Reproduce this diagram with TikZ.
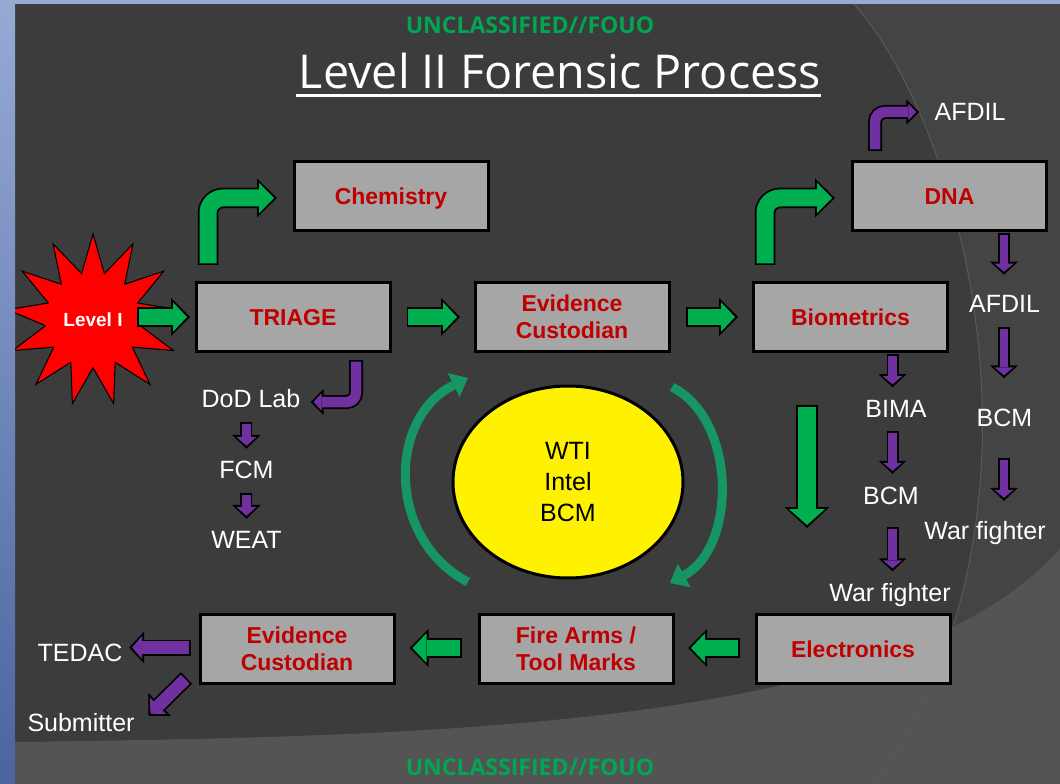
\documentclass[tikz,border=0pt]{standalone}
\usepackage{fontspec}
\setmainfont{Liberation Sans}
\newfontfamily\headfont{Open Sans}
\usetikzlibrary{positioning}
\usetikzlibrary{calc}
\usetikzlibrary{arrows.meta}
\usetikzlibrary{shapes.geometric}
\usetikzlibrary{backgrounds}
\definecolor{boxred}{RGB}{192,0,0}
\definecolor{boxgray}{RGB}{166,166,166}
\definecolor{flowgreen}{RGB}{0,176,80}
\definecolor{flowpurple}{RGB}{112,48,160}
\definecolor{ringgreen}{RGB}{22,150,100}
\definecolor{banner}{RGB}{0,166,81}
\definecolor{slate}{RGB}{60,60,60}
\definecolor{slatelight}{RGB}{68,68,68}
\definecolor{slatelow}{RGB}{84,84,84}
\definecolor{slateline}{RGB}{88,88,88}
\definecolor{frameblue}{RGB}{150,170,212}
\definecolor{framedeep}{RGB}{75,100,160}

% block arrow: [opts]{colour}{shaft}{head width}{head length}{path}
\newcommand{\blockarrow}[6][]{%
  \pgfmathsetmacro\sw{#3*0.75}%
  \pgfmathsetmacro\hw{#4*0.75}%
  \pgfmathsetmacro\hl{#5*0.75}%
  \pgfmathsetmacro\isw{(#3-3.5)*0.75}%
  \pgfmathsetmacro\ihw{(#4*(#5-2)/#5-4.5)*0.75}%
  \pgfmathsetmacro\ihl{(#5-5)*0.75}%
  \draw[#1, black, line width=\sw pt,
        -{Triangle[width=\hw pt, length=\hl pt, line width=0pt]}] #6;
  \draw[#1, #2, line width=\isw pt, shorten <=1.3pt, shorten >=2.25pt,
        -{Triangle[width=\ihw pt, length=\ihl pt, line width=0pt]}] #6;
}

\begin{document}
\begin{tikzpicture}[
            x = 0.75pt, y = -0.75pt, % one unit = one pixel, y downwards
            box/.style = {draw = black, line width = 2.25pt, fill = boxgray,
                minimum width = 145.5pt, minimum height = 51.75pt, inner sep = 0pt,
                align = center, text = boxred,
                font = \bfseries\fontsize{17.25}{20.25}\selectfont},
            onebox/.style = {box, text height = 12.4pt, text depth = 0pt},
            lbl/.style = {text = white, inner sep = 0pt,
                text height = 13.5pt, text depth = 3.75pt,
                font = \fontsize{18.75}{22}\selectfont},
            burst/.style = {star, star points = 13, star point ratio = 1.8,
                minimum size = 129pt, inner sep = 0pt, fill = red,
                draw = black, line width = 0.8pt, text = white,
                font = \bfseries\fontsize{14.25}{16}\selectfont},
            hubnode/.style = {ellipse, draw = black, line width = 2.25pt,
                fill = yellow, minimum width = 172.5pt, minimum height = 144pt,
                align = center, font = \fontsize{18.75}{23.25}\selectfont},
            ring/.style = {draw = ringgreen, line width = 6.75pt,
                -{Triangle[length = 12pt, width = 20pt, line width = 0pt]}},
            banner/.style = {text = banner, inner sep = 0pt,
                font = \headfont\bfseries\fontsize{17.25}{20}\selectfont}
            ]
        \useasboundingbox (0,0) rectangle (1060,784);

        % headings
        \node[banner] (uncTop) at (530,25) {UNCLASSIFIED//FOUO};
        \node[banner] (uncBot) at (530,767) {UNCLASSIFIED//FOUO};
        \node[text = white, inner sep = 0pt, text height = 25pt, text depth = 0pt,
              font = \headfont\fontsize{35}{40}\selectfont]
              (title) at (560,72) {Level II Forensic Process};
        \draw[white, line width = 2pt] ($(title.south west)+(-3,6.5)$) -- ($(title.south east)+(0,6.5)$);

        % main boxes
        \node[onebox] (chem)   at (391,196) {Chemistry};
        \node[onebox] (triage) at (293,317) {TRIAGE};
        \node[box]    (ecA)    at (572,317) {Evidence\\Custodian};
        \node[onebox] (bio)    at (850.5,317) {Biometrics};
        \node[onebox] (dna)    at (949.5,196) {DNA};
        \node[onebox] (elec)   at (853,649) {Electronics};
        \node[box]    (fire)   at (576,649) {Fire Arms /\\Tool Marks};
        \node[box]    (ecB)    at (297,649) {Evidence\\Custodian};

        % level I and the hub
        \node[burst] (lvl) at (93,320) {Level I};
        \node[hubnode] (hub) at (568,482) {WTI\\Intel\\BCM};

        % side labels
        \node[lbl] (dod) at (251,401) {DoD Lab};
        \node[lbl] (fcm) [below = 35.25pt of dod, xshift = -3.4pt] {FCM};
        \node[lbl] (weat) [below = 35.25pt of fcm] {WEAT};
        \node[lbl] (tedac) at (80,655) {TEDAC};
        \node[lbl] (subm) at (81,725) {Submitter};

        \node[lbl] (afdA) at (970,114) {AFDIL};
        \node[lbl] (afdB) at (1004.5,306) {AFDIL};
        \node[lbl] (bcmR) [below = 67.5pt of afdB] {BCM};
        \node[lbl] (warR) at (985,533) {War fighter};

        \node[lbl] (bima) at (896,411) {BIMA};
        \node[lbl] (bcmM) [below = 47.25pt of bima, xshift = -3.75pt] {BCM};
        \node[lbl] (warM) [below = 55.5pt of bcmM, xshift = -0.75pt] {War fighter};

        % green flow
        \blockarrow{flowgreen}{20}{38}{19}{($(lvl)+(44,-3)$) -- ($(triage.west)+(-4.5,0)$)}
        \blockarrow{flowgreen}{20}{38}{19}{($(triage.east)+(15,0)$) -- ($(ecA.west)+(-13.5,0)$)}
        \blockarrow{flowgreen}{20}{38}{19}{($(ecA.east)+(15.5,0)$) -- ($(bio.west)+(-14,0)$)}
        \blockarrow{flowgreen}{20}{38}{19}{($(elec.west)+(-14.5,-1)$) -- ($(fire.east)+(13.5,-1)$)}
        \blockarrow{flowgreen}{20}{38}{19}{($(fire.west)+(-16,-1)$) -- ($(ecB.east)+(14,-1)$)}
        \blockarrow{flowgreen}{22}{45}{21}{($(elec.north)+(-46,-208)$) -- ($(elec.north)+(-46,-85)$)}
        \blockarrow[rounded corners = 11.25pt]{flowgreen}{20.5}{39}{20}{($(triage.north west)+(13.5,-16)$) |- ($(chem.west)+(-15.5,2)$)}
        \blockarrow[rounded corners = 11.25pt]{flowgreen}{20.5}{39}{20}{($(bio.north west)+(13,-16)$) |- ($(dna.west)+(-16,2)$)}

        % purple hand-offs
        \blockarrow[rounded corners = 7pt]{flowpurple}{14}{26}{13}{($(triage.south east)+(-35.5,7)$) |- ($(dod.east)+(10,1)$)}
        \blockarrow{flowpurple}{12}{29}{14}{($(fcm.north |- dod.south)+(0,9)$) -- ($(fcm.north)+(0,-11)$)}
        \blockarrow{flowpurple}{12}{29}{14}{($(fcm.south)+(0,9.5)$) -- ($(weat.north)+(0,-11.5)$)}
        \blockarrow[rounded corners = 7.5pt]{flowpurple}{14}{25}{13}{($(dna.north)+(-74.5,-9)$) |- ($(afdA.west)+(-15,-2)$)}
        \blockarrow{flowpurple}{12}{28}{13}{($(dna.south)+(54.5,1)$) -- ($(afdB.north)+(-0.5,-19.5)$)}
        \blockarrow{flowpurple}{12}{28}{13}{($(afdB.south)+(-0.5,9.5)$) -- ($(bcmR.north)+(-0.5,-29.5)$)}
        \blockarrow{flowpurple}{12}{28}{13}{($(bcmR.south)+(-0.5,26.5)$) -- ($(bcmR.south)+(-0.5,69.5)$)}
        \blockarrow{flowpurple}{12}{28}{13}{($(bio.south)+(42,1)$) -- ($(bima.north)+(-3.5,-12)$)}
        \blockarrow{flowpurple}{12}{28}{13}{($(bima.south)+(-3.5,8)$) -- ($(bcmM.north)+(1.5,-12)$)}
        \blockarrow{flowpurple}{12}{28}{13}{($(bcmM.south)+(1.5,18)$) -- ($(warM.north)+(2.5,-12)$)}
        \blockarrow{flowpurple}{16}{32}{15}{($(ecB.west)+(-8,-1.5)$) -- ($(tedac.east |- ecB.west)+(6.5,-1.5)$)}
        \blockarrow{flowpurple}{16}{32}{16}{($(ecB.south west)+(-12,-7)$) -- ($(subm.north east)+(13.5,2.5)$)}

        % cycle round the hub
        \draw[ring] ($(hub)+(-100,100)$) .. controls ($(hub)+(-181,58)$) and ($(hub)+(-181,-64)$) .. ($(hub)+(-100,-104)$);
        \draw[ring] ($(hub)+(104,-95)$) .. controls ($(hub)+(169,-62)$) and ($(hub)+(169,65)$) .. ($(hub)+(102,101)$);

        % frame of the slide
        \shade[top color = frameblue, bottom color = framedeep] (0,0) rectangle (15,784);
        \fill[frameblue] (15,0) rectangle (1060,4);

        % slide backdrop
        \begin{scope}[on background layer]
            \fill[slate] (15,4) rectangle (1060,784);
            \fill[slatelight] (854,4) .. controls (966,130) and (1066,520) .. (875,784) -- (1060,784) -- (1060,4) -- cycle;
            \fill[slatelow] (15,742) .. controls (450,736) and (900,727) .. (1060,549) -- (1060,784) -- (15,784) -- cycle;
            \draw[slateline, line width = 0.75pt] (854,4) .. controls (966,130) and (1066,520) .. (875,784);
        \end{scope}
\end{tikzpicture}
\end{document}
